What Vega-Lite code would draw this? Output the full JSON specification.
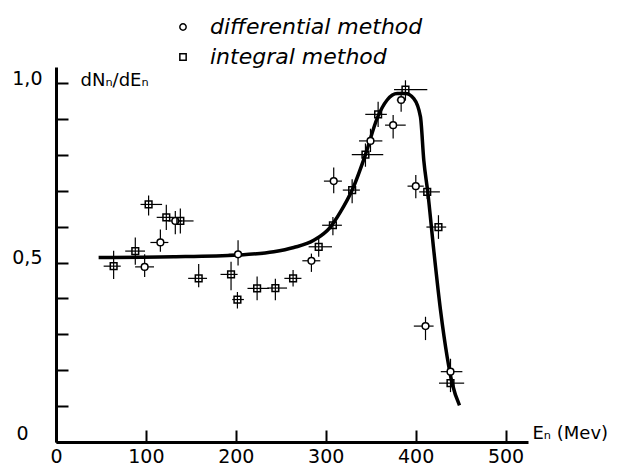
{
  "$schema": "https://vega.github.io/schema/vega-lite/v6.json",
  "width": 472,
  "height": 375,
  "autosize": {"type": "none"},
  "padding": {"left": 56, "top": 67, "right": 104, "bottom": 23},
  "background": "white",
  "config": {"view": {"stroke": null}, "font": "DejaVu Sans"},
  "datasets": {
    "pts": [
      {"m": "differential method", "E": 98.6, "v": 0.488, "xl": 88, "xh": 109, "yl": 0.46, "yh": 0.523},
      {"m": "integral method", "E": 64.1, "v": 0.49, "xl": 53, "xh": 72, "yl": 0.454, "yh": 0.533},
      {"m": "integral method", "E": 88.2, "v": 0.532, "xl": 77, "xh": 99, "yl": 0.494, "yh": 0.57},
      {"m": "integral method", "E": 103.0, "v": 0.662, "xl": 94, "xh": 118, "yl": 0.631, "yh": 0.687},
      {"m": "differential method", "E": 116.1, "v": 0.556, "xl": 105, "xh": 125, "yl": 0.53, "yh": 0.592},
      {"m": "integral method", "E": 122.7, "v": 0.626, "xl": 112, "xh": 131, "yl": 0.591, "yh": 0.661},
      {"m": "differential method", "E": 132.7, "v": 0.616, "xl": 125, "xh": 140, "yl": 0.579, "yh": 0.644},
      {"m": "integral method", "E": 138.3, "v": 0.616, "xl": 131, "xh": 153, "yl": 0.581, "yh": 0.651},
      {"m": "integral method", "E": 158.7, "v": 0.456, "xl": 147, "xh": 168, "yl": 0.431, "yh": 0.496},
      {"m": "integral method", "E": 194.7, "v": 0.467, "xl": 183, "xh": 202, "yl": 0.423, "yh": 0.502},
      {"m": "differential method", "E": 202.5, "v": 0.523, "xl": 192, "xh": 212, "yl": 0.492, "yh": 0.562},
      {"m": "integral method", "E": 201.8, "v": 0.397, "xl": 196, "xh": 209, "yl": 0.372, "yh": 0.418},
      {"m": "integral method", "E": 223.7, "v": 0.428, "xl": 213, "xh": 237, "yl": 0.395, "yh": 0.461},
      {"m": "integral method", "E": 244.0, "v": 0.429, "xl": 235, "xh": 257, "yl": 0.395, "yh": 0.455},
      {"m": "integral method", "E": 263.7, "v": 0.456, "xl": 254, "xh": 273, "yl": 0.433, "yh": 0.479},
      {"m": "differential method", "E": 284.1, "v": 0.505, "xl": 274, "xh": 294, "yl": 0.474, "yh": 0.525},
      {"m": "integral method", "E": 292.2, "v": 0.544, "xl": 281, "xh": 307, "yl": 0.516, "yh": 0.572},
      {"m": "integral method", "E": 308.0, "v": 0.604, "xl": 296, "xh": 318, "yl": 0.576, "yh": 0.627},
      {"m": "differential method", "E": 308.9, "v": 0.727, "xl": 298, "xh": 318, "yl": 0.693, "yh": 0.765},
      {"m": "integral method", "E": 329.4, "v": 0.702, "xl": 319, "xh": 338, "yl": 0.665, "yh": 0.732},
      {"m": "integral method", "E": 344.2, "v": 0.801, "xl": 329, "xh": 364, "yl": 0.767, "yh": 0.832},
      {"m": "differential method", "E": 349.8, "v": 0.839, "xl": 337, "xh": 363, "yl": 0.808, "yh": 0.873},
      {"m": "integral method", "E": 358.3, "v": 0.913, "xl": 344, "xh": 368, "yl": 0.878, "yh": 0.948},
      {"m": "differential method", "E": 375.0, "v": 0.883, "xl": 366, "xh": 389, "yl": 0.846, "yh": 0.911},
      {"m": "differential method", "E": 383.9, "v": 0.953, "xl": 379, "xh": 389, "yl": 0.92, "yh": 0.976},
      {"m": "integral method", "E": 388.7, "v": 0.982, "xl": 376, "xh": 413, "yl": 0.952, "yh": 1.008},
      {"m": "differential method", "E": 400.2, "v": 0.713, "xl": 391, "xh": 409, "yl": 0.679, "yh": 0.744},
      {"m": "integral method", "E": 412.9, "v": 0.697, "xl": 404, "xh": 427, "yl": 0.677, "yh": 0.717},
      {"m": "integral method", "E": 425.4, "v": 0.599, "xl": 412, "xh": 434, "yl": 0.566, "yh": 0.632},
      {"m": "differential method", "E": 411.0, "v": 0.323, "xl": 398, "xh": 420, "yl": 0.284, "yh": 0.349},
      {"m": "differential method", "E": 438.8, "v": 0.196, "xl": 428, "xh": 452, "yl": 0.175, "yh": 0.232},
      {"m": "integral method", "E": 438.8, "v": 0.164, "xl": 426, "xh": 454, "yl": 0.139, "yh": 0.18}
    ],
    "curve": [
      {"E": 47.4, "v": 0.514},
      {"E": 130.9, "v": 0.516},
      {"E": 202.5, "v": 0.521},
      {"E": 242.2, "v": 0.53},
      {"E": 264.4, "v": 0.542},
      {"E": 286.7, "v": 0.562},
      {"E": 305.2, "v": 0.599},
      {"E": 316.4, "v": 0.641},
      {"E": 329.4, "v": 0.702},
      {"E": 344.2, "v": 0.801},
      {"E": 357.2, "v": 0.902},
      {"E": 368.3, "v": 0.953},
      {"E": 379.5, "v": 0.971},
      {"E": 388.7, "v": 0.971},
      {"E": 398.0, "v": 0.957},
      {"E": 405.4, "v": 0.906},
      {"E": 409.1, "v": 0.785},
      {"E": 413.5, "v": 0.697},
      {"E": 420.2, "v": 0.534},
      {"E": 427.7, "v": 0.367},
      {"E": 435.1, "v": 0.237},
      {"E": 440.7, "v": 0.163},
      {"E": 448.8, "v": 0.102}
    ]
  },
  "layer": [
    {
      "data": {"name": "pts"},
      "mark": {"type": "rule", "color": "black", "strokeWidth": 1.2},
      "encoding": {
        "x": {
          "field": "xl", "type": "quantitative",
          "scale": {"domain": [0, 525], "nice": false, "zero": false},
          "axis": {
            "values": [0, 100, 200, 300, 400, 500], "tickCount": 20,
            "tickSize": -12, "tickWidth": 2, "tickColor": "black",
            "domainWidth": 3, "domainColor": "black",
            "labelFont": "DejaVu Sans", "labelFontSize": 19, "labelColor": "black",
            "labelPadding": 17, "labelFlush": false, "labelOverlap": false,
            "grid": false,
            "title": "Eₙ (Mev)", "titleX": 476, "titleY": -4,
            "titleAlign": "left", "titleBaseline": "alphabetic",
            "titleFont": "DejaVu Sans", "titleFontWeight": "normal", "titleFontSize": 18, "titleColor": "black"
          }
        },
        "x2": {"field": "xh"},
        "y": {
          "field": "v", "type": "quantitative",
          "scale": {"domain": [0, 1.045], "nice": false, "zero": false},
          "axis": {
            "values": [0, 0.1, 0.2, 0.3, 0.4, 0.5, 0.6, 0.7, 0.8, 0.9, 1.0], "tickCount": 30,
            "labelExpr": "datum.value == 0 ? '0' : (datum.value == 0.5 ? '0,5' : (datum.value == 1 ? '1,0' : ''))",
            "tickSize": -12, "tickWidth": 2, "tickColor": "black",
            "domainWidth": 3, "domainColor": "black",
            "labelFont": "DejaVu Sans", "labelFontSize": 19, "labelColor": "black",
            "labelPadding": {"condition": {"test": "datum.value == 0", "value": 40}, "value": 26},
            "labelOffset": {"condition": {"test": "datum.value == 0", "value": -9}, "value": -5},
            "labelFlush": false, "labelOverlap": false,
            "grid": false,
            "title": "dNₙ/dEₙ", "titleAngle": 0, "titleX": 24, "titleY": 18,
            "titleAlign": "left", "titleBaseline": "alphabetic",
            "titleFont": "DejaVu Sans", "titleFontWeight": "normal", "titleFontSize": 18, "titleColor": "black"
          }
        }
      }
    },
    {
      "data": {"name": "pts"},
      "mark": {"type": "rule", "color": "black", "strokeWidth": 1.2},
      "encoding": {
        "x": {"field": "E", "type": "quantitative"},
        "y": {"field": "yl", "type": "quantitative"},
        "y2": {"field": "yh"}
      }
    },
    {
      "data": {"name": "curve"},
      "mark": {"type": "line", "color": "black", "strokeWidth": 3.5, "interpolate": "monotone"},
      "encoding": {
        "x": {"field": "E", "type": "quantitative"},
        "y": {"field": "v", "type": "quantitative"}
      }
    },
    {
      "data": {"name": "pts"},
      "mark": {"type": "point", "filled": false, "stroke": "black", "strokeWidth": 1.5, "size": 45, "opacity": 1},
      "encoding": {
        "x": {"field": "E", "type": "quantitative"},
        "y": {"field": "v", "type": "quantitative"},
        "shape": {
          "field": "m", "type": "nominal",
          "scale": {"domain": ["differential method", "integral method"], "range": ["circle", "square"]},
          "legend": {
            "title": null, "orient": "none", "legendX": 116, "legendY": -51,
            "padding": 0, "rowPadding": 8, "labelOffset": 16,
            "symbolSize": 40, "symbolStrokeWidth": 1.5, "symbolStrokeColor": "black", "symbolFillColor": "white",
            "labelFont": "DejaVu Sans", "labelFontStyle": "italic", "labelFontSize": 22, "labelColor": "black",
            "labelLimit": 400
          }
        },
        "fill": {
          "field": "m", "type": "nominal",
          "scale": {"domain": ["differential method", "integral method"], "range": ["white", "transparent"]},
          "legend": null
        }
      }
    }
  ]
}
